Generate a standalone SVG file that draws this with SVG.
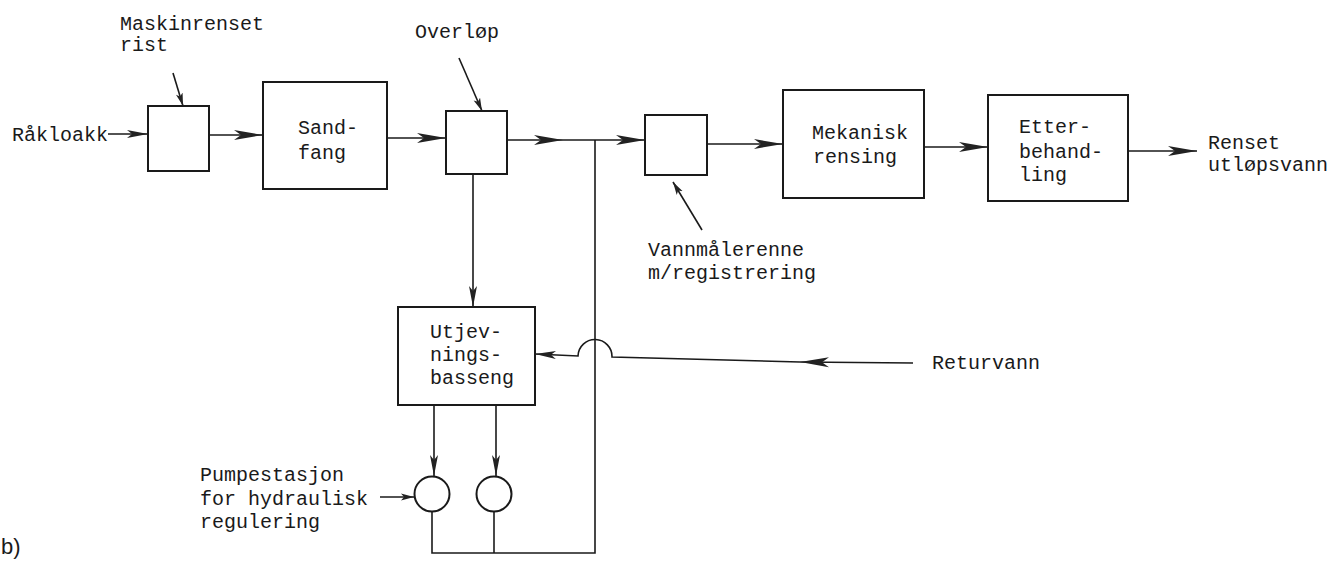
<svg xmlns="http://www.w3.org/2000/svg" width="1330" height="561" viewBox="0 0 1330 561">
<style>
.box{fill:#fff;stroke:#1a1a1a;stroke-width:2}
.ln{fill:none;stroke:#1a1a1a;stroke-width:1.6}
.t{font-family:"Liberation Mono","DejaVu Sans Mono",monospace;font-size:20px;fill:#1a1a1a}
</style>
<defs>
<marker id="big" viewBox="0 0 30 11" markerWidth="30" markerHeight="11" refX="29" refY="5.5" orient="auto" markerUnits="userSpaceOnUse">
<path d="M0,0.5 L29,5.5 L0,10.5 L7,5.5 z" fill="#222"/>
</marker>
<marker id="med" viewBox="0 0 22 9" markerWidth="22" markerHeight="9" refX="21" refY="4.5" orient="auto" markerUnits="userSpaceOnUse">
<path d="M0,0.5 L21,4.5 L0,8.5 L5,4.5 z" fill="#222"/>
</marker>
<marker id="sm" viewBox="0 0 14 8" markerWidth="14" markerHeight="8" refX="13" refY="4" orient="auto" markerUnits="userSpaceOnUse">
<path d="M0,0.5 L13,4 L0,7.5 L3,4 z" fill="#222"/>
</marker>
</defs>
<rect width="1330" height="561" fill="#fff"/>

<g id="connectors">
<line class="ln" x1="108" y1="134" x2="148" y2="134" marker-end="url(#med)"/>
<line class="ln" x1="173" y1="73" x2="183" y2="106" marker-end="url(#sm)"/>
<line class="ln" x1="209" y1="135" x2="263" y2="135" marker-end="url(#big)"/>
<line class="ln" x1="387" y1="138" x2="446" y2="138" marker-end="url(#big)"/>
<line class="ln" x1="459" y1="58" x2="482" y2="111" marker-end="url(#sm)"/>
<path class="ln" d="M507,140 L563,140 L645,140" marker-mid="url(#big)" marker-end="url(#big)"/>
<line class="ln" x1="707" y1="144" x2="783" y2="144" marker-end="url(#big)"/>
<line class="ln" x1="924" y1="147" x2="988" y2="147" marker-end="url(#big)"/>
<line class="ln" x1="1128" y1="151" x2="1197" y2="151" marker-end="url(#big)"/>
<line class="ln" x1="702" y1="230" x2="673" y2="182" marker-end="url(#sm)"/>
<line class="ln" x1="473" y1="174" x2="473" y2="307" marker-end="url(#med)"/>
<line class="ln" x1="434" y1="405" x2="434" y2="476" marker-end="url(#med)"/>
<line class="ln" x1="496" y1="405" x2="496" y2="476" marker-end="url(#med)"/>
<line class="ln" x1="380" y1="497" x2="414" y2="497" marker-end="url(#sm)"/>
<path class="ln" d="M432,512 L432,553 L595,553 L595,140"/>
<line class="ln" x1="494" y1="512" x2="494" y2="553"/>
<line class="ln" x1="913" y1="363" x2="800" y2="362" marker-end="url(#big)"/>
<path class="ln" d="M800,362 L612,357 A17,17 0 0 0 578,356 L535,354" marker-end="url(#med)"/>
</g>

<g id="rakloakk"><text class="t" x="12" y="141">Råkloakk</text></g>
<g id="maskinrenset-label"><text class="t" x="120" y="30">Maskinrenset</text><text class="t" x="120" y="51">rist</text></g>
<g id="rist"><rect class="box" x="148" y="106" width="61" height="65"/></g>
<g id="sandfang"><rect class="box" x="263" y="82" width="124" height="107"/><text class="t" x="298" y="134">Sand-</text><text class="t" x="298" y="159">fang</text></g>
<g id="overlop-label"><text class="t" x="415" y="38">Overløp</text></g>
<g id="overlop"><rect class="box" x="446" y="111" width="61" height="63"/></g>
<g id="vannmaler"><rect class="box" x="645" y="115" width="62" height="60"/></g>
<g id="vannmaler-label"><text class="t" x="648" y="256">Vannmålerenne</text><text class="t" x="648" y="279">m/registrering</text></g>
<g id="mekanisk"><rect class="box" x="783" y="90" width="141" height="108"/><text class="t" x="812" y="139">Mekanisk</text><text class="t" x="813" y="163">rensing</text></g>
<g id="etterbehandling"><rect class="box" x="988" y="95" width="140" height="106"/><text class="t" x="1019" y="133">Etter-</text><text class="t" x="1019" y="158">behand-</text><text class="t" x="1019" y="181">ling</text></g>
<g id="renset"><text class="t" x="1208" y="149">Renset</text><text class="t" x="1208" y="171">utløpsvann</text></g>
<g id="utjevning"><rect class="box" x="398" y="307" width="137" height="98"/><text class="t" x="430" y="338">Utjev-</text><text class="t" x="430" y="361">nings-</text><text class="t" x="430" y="384">basseng</text></g>
<g id="pumpe1"><circle class="box" cx="432" cy="494" r="17.5"/></g>
<g id="pumpe2"><circle class="box" cx="494" cy="494" r="17.5"/></g>
<g id="pumpestasjon-label"><text class="t" x="200" y="481">Pumpestasjon</text><text class="t" x="200" y="505">for hydraulisk</text><text class="t" x="200" y="528">regulering</text></g>
<g id="returvann"><text class="t" x="932" y="369">Returvann</text></g>
<g id="caption"><text x="1" y="554" style="font-family:'Liberation Sans',sans-serif;font-size:22px;fill:#1a1a1a">b)</text></g>
</svg>
